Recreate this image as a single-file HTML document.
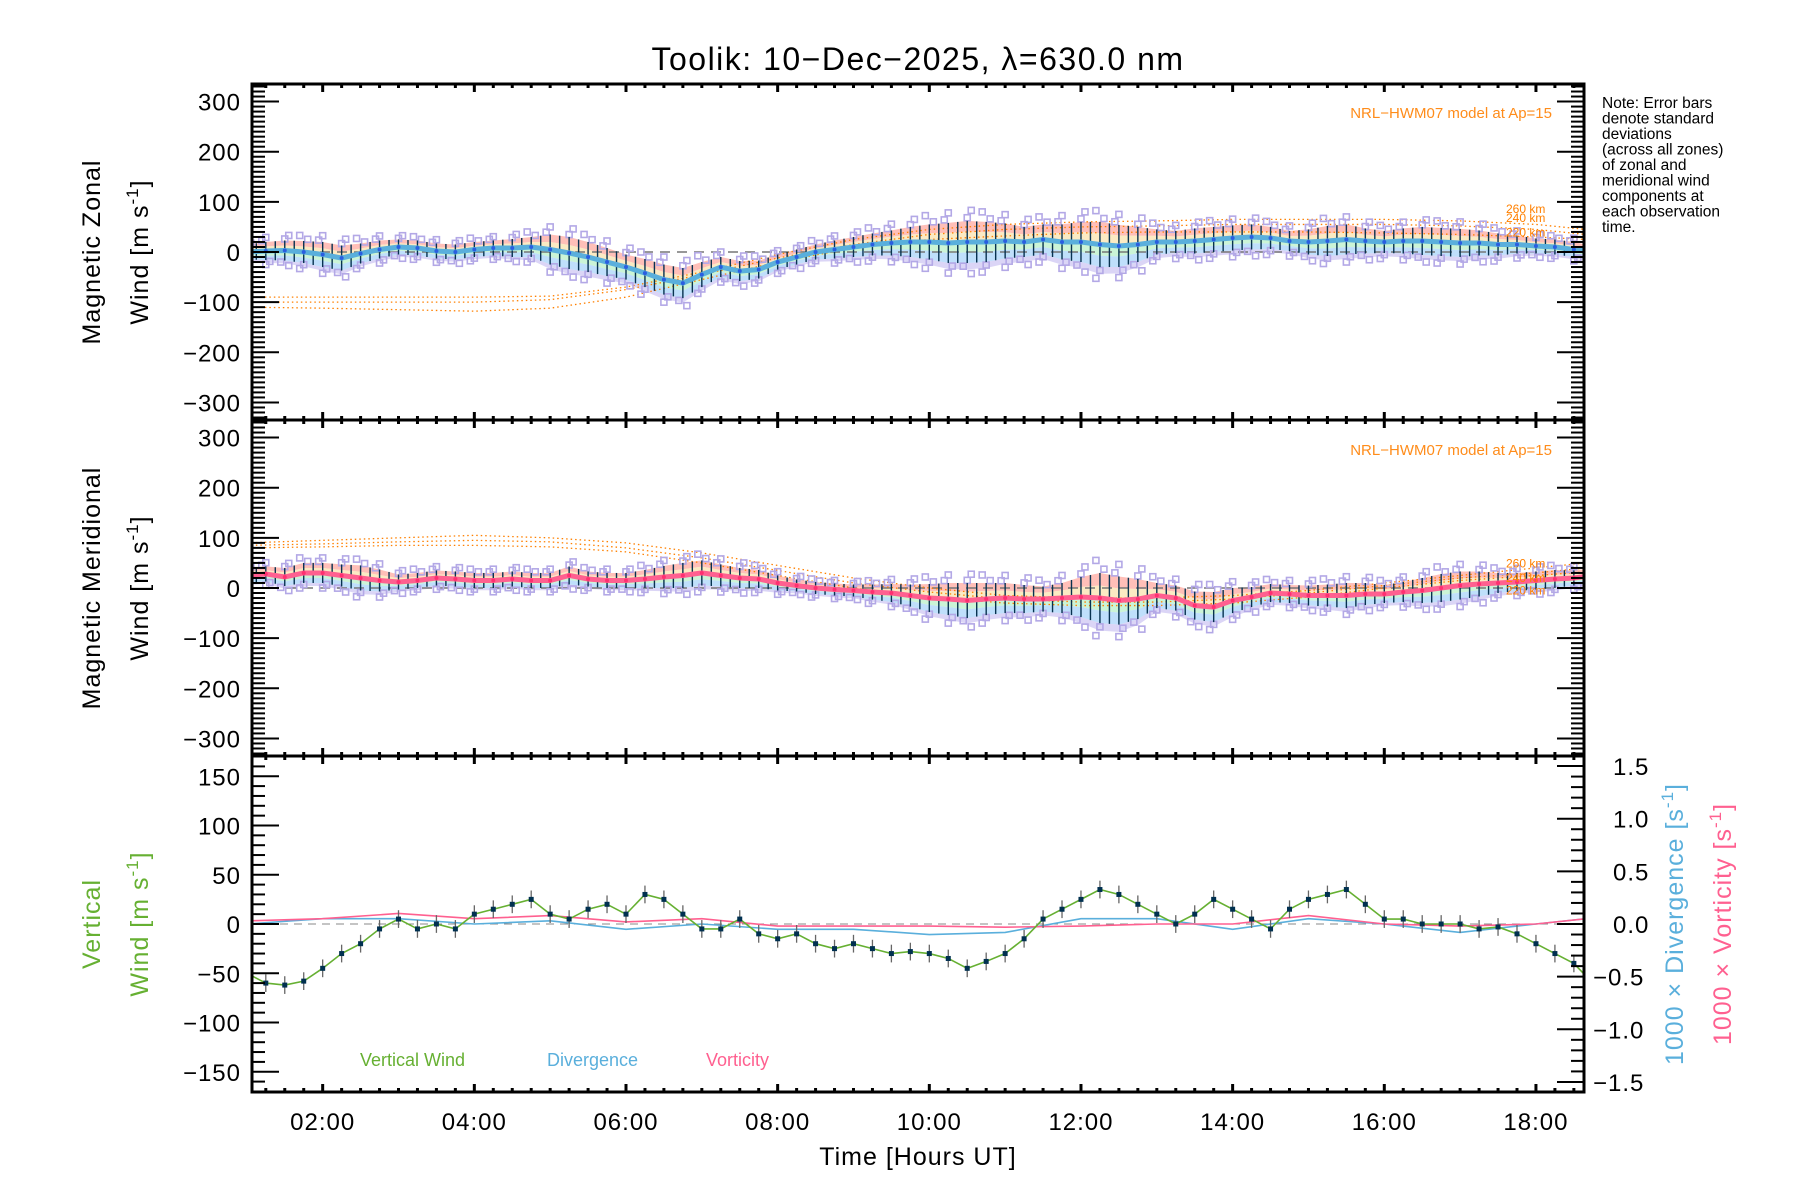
<!DOCTYPE html>
<html><head><meta charset="utf-8"><style>
body{margin:0;background:#fff}
svg{display:block;font-family:"Liberation Sans",sans-serif}
</style></head><body>
<svg id="chart" width="1800" height="1200" viewBox="0 0 1800 1200" xmlns="http://www.w3.org/2000/svg">
<rect width="1800" height="1200" fill="#fff"/>
<text x="918" y="70" font-size="32" letter-spacing="1.5" text-anchor="middle">Toolik: 10−Dec−2025, λ=630.0 nm</text>
<g font-size="15.5" fill="#000">
<text x="1602" y="108">Note: Error bars</text><text x="1602" y="123.5">denote standard</text><text x="1602" y="139">deviations</text><text x="1602" y="154.5">(across all zones)</text><text x="1602" y="170">of zonal and</text><text x="1602" y="185.5">meridional wind</text><text x="1602" y="201">components at</text><text x="1602" y="216.5">each observation</text><text x="1602" y="232">time.</text>
</g>
<g font-size="25" letter-spacing="1" text-anchor="middle">
<text transform="translate(100,252) rotate(-90)">Magnetic  Zonal</text>
<text transform="translate(148,252) rotate(-90)">Wind  [m  s<tspan dy="-10" font-size="17">-1</tspan><tspan dy="10">]</tspan></text>
</g>
<g font-size="25" letter-spacing="1" text-anchor="middle">
<text transform="translate(100,588) rotate(-90)">Magnetic  Meridional</text>
<text transform="translate(148,588) rotate(-90)">Wind  [m  s<tspan dy="-10" font-size="17">-1</tspan><tspan dy="10">]</tspan></text>
</g>
<g font-size="25" letter-spacing="1" text-anchor="middle" fill="#66b032">
<text transform="translate(100,924) rotate(-90)">Vertical</text>
<text transform="translate(148,924) rotate(-90)">Wind  [m  s<tspan dy="-10" font-size="17">-1</tspan><tspan dy="10">]</tspan></text>
</g>
<text transform="translate(1683,924) rotate(-90)" font-size="25" letter-spacing="1" text-anchor="middle" fill="#5aafdc">1000 × Divergence [s<tspan dy="-10" font-size="17">-1</tspan><tspan dy="10">]</tspan></text>
<text transform="translate(1731,924) rotate(-90)" font-size="25" letter-spacing="1" text-anchor="middle" fill="#ff6090">1000 × Vorticity [s<tspan dy="-10" font-size="17">-1</tspan><tspan dy="10">]</tspan></text>
<text x="918" y="1165" font-size="25" letter-spacing="1" text-anchor="middle">Time [Hours UT]</text>
<text x="1552" y="118" font-size="15" text-anchor="end" fill="#ff8c1a">NRL−HWM07 model at Ap=15</text>
<text x="1552" y="455" font-size="15" text-anchor="end" fill="#ff8c1a">NRL−HWM07 model at Ap=15</text>
<text x="360" y="1066" font-size="18" fill="#66b032">Vertical Wind</text>
<text x="547" y="1066" font-size="18" fill="#5aafdc">Divergence</text>
<text x="706" y="1066" font-size="18" fill="#ff6090">Vorticity</text>
<g id="plot"></g>
</svg>
<script>
const zonal=[0,2,3,0,-5,-12,-3,5,10,8,2,0,5,8,8,10,5,-2,-10,-20,-30,-42,-55,-62,-45,-30,-38,-35,-20,-10,0,5,10,15,18,20,20,18,20,20,22,20,25,20,20,15,12,15,20,20,22,25,28,30,28,22,20,22,25,22,20,22,22,20,18,18,15,15,12,10,5,0];
const zonalErr=[15,18,20,22,25,25,20,18,15,15,15,15,15,15,18,20,30,32,30,28,25,28,30,30,25,20,20,18,15,15,15,18,20,22,25,30,35,40,42,40,35,30,30,35,40,45,42,35,25,22,25,25,25,25,22,20,25,30,30,25,22,25,28,28,28,25,22,18,15,15,15,12];
const merid=[25,28,22,30,30,25,20,15,12,15,20,18,15,15,18,15,15,25,18,15,15,18,22,25,30,25,20,18,10,5,0,-3,-5,-8,-10,-15,-20,-22,-25,-22,-20,-22,-22,-20,-18,-20,-25,-22,-15,-20,-35,-38,-25,-18,-10,-12,-15,-15,-15,-12,-12,-8,-5,0,5,8,10,12,15,18,20,25];
const meridErr=[15,15,18,20,20,22,25,22,15,15,15,15,15,15,15,15,15,18,15,15,15,18,22,25,25,22,20,18,15,12,12,12,12,15,18,22,28,32,35,32,30,28,25,30,40,50,48,40,25,25,28,30,25,20,18,18,20,22,25,22,18,20,25,28,28,25,20,18,18,18,15,15];
const vert=[-50,-60,-62,-58,-45,-30,-20,-5,5,-5,0,-5,10,15,20,25,10,5,15,20,10,30,25,10,-5,-5,5,-10,-15,-10,-20,-25,-20,-25,-30,-28,-30,-35,-45,-38,-30,-15,5,15,25,35,30,20,10,0,10,25,15,5,-5,15,25,30,35,20,5,5,0,0,0,-5,-3,-10,-20,-30,-40,-60];
const vertErr=[9,9,9,9,9,9,9,9,9,9,9,9,9,9,9,9,9,9,9,9,9,9,9,9,9,9,9,9,9,9,9,9,9,9,9,9,9,9,9,9,9,9,9,9,9,9,9,9,9,9,9,9,9,9,9,9,9,9,9,9,9,9,9,9,9,9,9,9,9,9,9,9];
const hourly=[1,2,3,4,5,6,7,8,9,10,11,12,13,14,15,16,17,18,18.66];
const zModel260=[-90,-90,-90,-90,-88,-70,-40,-5,25,45,55,60,62,65,65,65,62,55,45];
const zModel240=[-100,-100,-100,-100,-95,-75,-45,-12,15,35,45,50,52,55,55,55,52,45,35];
const zModel220=[-110,-112,-115,-118,-112,-90,-55,-20,8,25,32,38,40,40,40,38,35,30,25];
const mModel260=[90,95,100,105,100,90,70,45,20,0,-15,-20,-20,-15,-5,10,25,40,50];
const mModel240=[85,88,92,95,92,80,60,35,10,-8,-22,-28,-28,-22,-10,5,20,30,40];
const mModel220=[80,82,85,85,82,72,50,25,0,-18,-30,-35,-35,-30,-18,0,15,25,32];
const divergence=[0.0,0.05,0.05,0.0,0.03,-0.05,0.0,-0.05,-0.05,-0.1,-0.08,0.05,0.05,-0.05,0.05,0.0,-0.08,0.0,0.05];
const vorticity=[0.03,0.05,0.1,0.05,0.08,0.02,0.05,-0.02,-0.02,-0.02,-0.03,-0.02,0.0,0.0,0.08,0.0,-0.02,0.0,0.05];
const xTickLabels=["02:00","04:00","06:00","08:00","10:00","12:00","14:00","16:00","18:00"];
const windTicks=[300,200,100,0,-100,-200,-300];
const vertTicks=[150,100,50,0,-50,-100,-150];
const rightTicks=["1.5","1.0","0.5","0.0","−0.5","−1.0","−1.5"];

const NS="http://www.w3.org/2000/svg";
const g=document.getElementById('plot');
const X0=252,X1=1584;
const times=zonal.map((_,i)=>1+i*0.25);
function x(h){return X0+(h-1.068)*75.83;}
function yZ(v){return 252-v*0.5015;}
function yM(v){return 588-v*0.5015;}
function yV(v){return 924-v*0.985;}
function yR(v){return 924-v*105.3;}
function el(tag,attrs,parent){const e=document.createElementNS(NS,tag);for(const k in attrs)e.setAttribute(k,attrs[k]);(parent||g).appendChild(e);return e;}

const defs=el('defs',{});
[[84,'c1'],[420,'c2'],[756,'c3']].forEach(([t,id])=>{const c=el('clipPath',{id:id},defs);el('rect',{x:X0,y:t,width:X1-X0,height:336},c);});

function windPanel(mean,err,yf,clipId,lineColor,dotColor,models,name){
  const pg=el('g',{'clip-path':'url(#'+clipId+')'});
  
  
  // bands (rainbow strips)
  [[1,0.5,'rgba(255,170,160,0.75)'],[0.5,0,'rgba(250,225,170,0.7)'],[0,-0.5,'rgba(185,240,200,0.75)'],[-0.5,-1,'rgba(175,215,250,0.8)'],[-1,-1.3,'rgba(195,185,240,0.6)']].forEach(([a,b,c])=>{
    const up=times.map((t,i)=>x(t)+','+yf(mean[i]+err[i]*a));
    const dn=times.map((t,i)=>x(t)+','+yf(mean[i]+err[i]*b)).reverse();
    el('polygon',{points:up.concat(dn).join(' '),fill:c},pg);
  });
  el('line',{x1:X0,x2:X1,y1:yf(0),y2:yf(0),stroke:'#777','stroke-dasharray':'10 7','stroke-width':1.5},pg);
  const mc=[['260',models[0]],['240',models[1]],['220',models[2]]];
  mc.forEach(([lab,arr])=>{
    const pts=hourly.map((h,i)=>x(h)+','+yf(arr[i])).join(' ');
    const p=el('polyline',{points:pts,fill:'none',stroke:'#ff8000','stroke-width':1.3,'stroke-dasharray':'1.5 3'},pg);
    
    
  });
  const ks=[-1.5,-1.15,1.15,1.5];
  times.forEach((t,i)=>{ks.forEach((k,j)=>{
    const s=el('rect',{x:x(t)+((i+j)%3-1)*4-3,y:yf(mean[i]+k*err[i])-3,width:6,height:6,fill:'none',stroke:'#b3a8e6','stroke-width':1.6},pg);
    
    
  });});
  for(let i=0;i<times.length;i++){
    for(let s=0;s<2;s++){
      if(i===times.length-1&&s>0)break;
      const f=s/2;const j=Math.min(i+1,times.length-1);
      const t=times[i]+0.25*f,m=mean[i]+(mean[j]-mean[i])*f,e=err[i]+(err[j]-err[i])*f;
      const b=el('line',{x1:x(t),x2:x(t),y1:yf(m-e),y2:yf(m+e),stroke:'#083250','stroke-width':1.4},pg);
      
      
    }
  }
  const ln=el('polyline',{points:times.map((t,i)=>x(t)+','+yf(mean[i])).join(' '),fill:'none',stroke:lineColor,'stroke-width':5},pg);
  
  
  times.forEach((t,i)=>{
    const d=el('circle',{cx:x(t),cy:yf(mean[i]),r:2,fill:dotColor},pg);
    
    
  });
}
windPanel(zonal,zonalErr,yZ,'c1','#5aafdc','#2a5ee0',[zModel260,zModel240,zModel220],'zonal');
windPanel(merid,meridErr,yM,'c2','#ff6090','#ff3070',[mModel260,mModel240,mModel220],'meridional');
[['260 km',yZ(zModel260[16])-8],['240 km',yZ(zModel240[16])-4],['220 km',yZ(zModel220[16])+2]].forEach(([t,yy])=>{
  const tx=el('text',{x:1506,y:yy,'font-size':12,fill:'#ff8000'});tx.textContent=t;
  
  
});
[['260 km',yM(mModel260[16])-8],['240 km',yM(mModel240[16])+4],['220 km',yM(mModel220[16])+14]].forEach(([t,yy])=>{
  const tx=el('text',{x:1506,y:yy,'font-size':12,fill:'#ff8000'});tx.textContent=t;
  
  
});

const p3=el('g',{'clip-path':'url(#c3)'});


el('line',{x1:X0,x2:X1,y1:yV(0),y2:yV(0),stroke:'#888','stroke-dasharray':'8 6','stroke-width':1},p3);
const dl=el('polyline',{points:hourly.map((h,i)=>x(h)+','+yR(divergence[i])).join(' '),fill:'none',stroke:'#5aafdc','stroke-width':1.6},p3);


const vl=el('polyline',{points:hourly.map((h,i)=>x(h)+','+yR(vorticity[i])).join(' '),fill:'none',stroke:'#ff6090','stroke-width':1.6},p3);


times.forEach((t,i)=>{
  const b=el('line',{x1:x(t),x2:x(t),y1:yV(vert[i]-vertErr[i]),y2:yV(vert[i]+vertErr[i]),stroke:'#666','stroke-width':1.3},p3);
  
  
});
const gl=el('polyline',{points:times.map((t,i)=>x(t)+','+yV(vert[i])).join(' '),fill:'none',stroke:'#66b032','stroke-width':1.6},p3);


times.forEach((t,i)=>{
  const d=el('rect',{x:x(t)-2.5,y:yV(vert[i])-2.5,width:5,height:5,fill:'#003050'},p3);
  
  
});

const ax=el('g',{stroke:'#000',fill:'none'});


[84,420,756].forEach(t=>el('rect',{x:X0,y:t,width:X1-X0,height:336,'stroke-width':3},ax));
for(let h=1.25;h<=18.66;h+=0.25){
  const major=Math.abs(h/2-Math.round(h/2))<1e-6;
  const L=major?8:4;
  [84,420,756].forEach(t=>{
    el('line',{x1:x(h),x2:x(h),y1:t,y2:t+L,'stroke-width':3},ax);
    el('line',{x1:x(h),x2:x(h),y1:t+336,y2:t+336-L,'stroke-width':3},ax);
  });
}
[yZ,yM].forEach((yf)=>{
  for(let v=-330;v<=330;v+=10){
    const major=v%100===0;const L=major?27:13;
    el('line',{x1:X0,x2:X0+L,y1:yf(v),y2:yf(v),'stroke-width':2},ax);
    el('line',{x1:X1,x2:X1-L,y1:yf(v),y2:yf(v),'stroke-width':2},ax);
  }
});
for(let v=-160;v<=160;v+=10){
  const major=v%50===0;const L=major?27:13;
  el('line',{x1:X0,x2:X0+L,y1:yV(v),y2:yV(v),'stroke-width':2},ax);
}
for(let v=-15;v<=15;v+=1){
  const major=v%5===0;const L=major?27:13;
  el('line',{x1:X1,x2:X1-L,y1:yR(v/10),y2:yR(v/10),'stroke-width':2},ax);
}
const lab=el('g',{'font-size':24,fill:'#000','letter-spacing':'1'});
windTicks.forEach(v=>{
  [yZ,yM].forEach(yf=>{
    const t=el('text',{x:241,y:yf(v)+9,'text-anchor':'end'},lab);t.textContent=(v<0?'−':'')+Math.abs(v);
    
    
  });
});
vertTicks.forEach(v=>{
  const t=el('text',{x:241,y:yV(v)+9,'text-anchor':'end'},lab);t.textContent=(v<0?'−':'')+Math.abs(v);
  
  
});
rightTicks.forEach((s,i)=>{
  const v=1.5-i*0.5;
  const t=el('text',{x:s[0]==='−'?1593:1613,y:yR(v)+9},lab);t.textContent=s;
  
  
});
xTickLabels.forEach((s,i)=>{
  const t=el('text',{x:x(2+2*i),y:1130,'text-anchor':'middle'},lab);t.textContent=s;
  
  
});
</script>
</body></html>
